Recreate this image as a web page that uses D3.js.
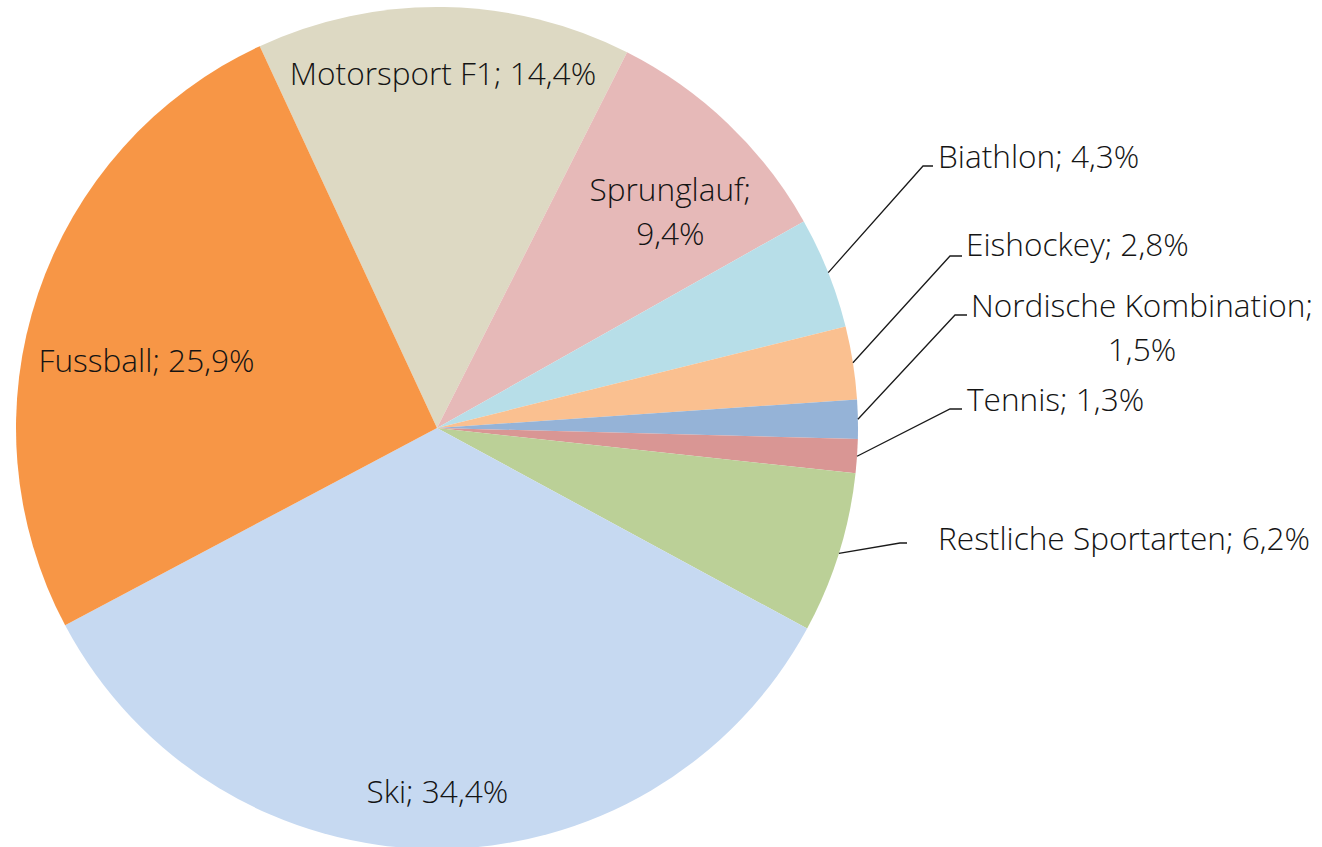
<!DOCTYPE html>
<html>
<head>
<meta charset="utf-8">
<script src="https://cdn.jsdelivr.net/npm/d3@7"></script>
<style>
  html, body { margin: 0; padding: 0; background: #fff; }
  svg text { font-family: 'Open Sans', sans-serif; font-weight: 300; fill: #141414; }
</style>
</head>
<body>
<svg id="chart"></svg>
<script>
'use strict';

// slices, clockwise from the Motorsport slice
var categories = ['Motorsport F1', 'Sprunglauf', 'Biathlon', 'Eishockey', 'Nordische Kombination',
  'Tennis', 'Restliche Sportarten', 'Ski', 'Fussball'];
var shares = [14.4, 9.4, 4.3, 2.8, 1.5, 1.3, 6.2, 34.4, 25.9];
var valueLabels = ['14,4%', '9,4%', '4,3%', '2,8%', '1,5%', '1,3%', '6,2%', '34,4%', '25,9%'];
var sliceColors = ['#ddd9c3', '#e6b9b8', '#b7dee8', '#fac090', '#95b3d7',
  '#d99694', '#bbd097', '#c6d9f1', '#f79646'];

var width = 1322, height = 847;
var cx = 437, cy = 428, radius = 421;
var fontSize = 31.6;

// label layout: inside labels use [angle offset, radius factor], outside ones text anchor + leader elbow
var labelLayout = [
  {inside: true, r: 0.84, da: 0.0, split: false},
  {inside: true, r: 0.755, da: 3.5, split: true},
  {inside: false, tx: 938, ty: 157, ex: 923, ey: 166, hx: 933, split: false},
  {inside: false, tx: 966, ty: 245, ex: 950, ey: 256, hx: 962, split: false},
  {inside: false, tx: 1142, ty: 306, ex: 955, ey: 315, hx: 967, center: true, split: true},
  {inside: false, tx: 967, ty: 400, ex: 950, ey: 409, hx: 962, split: false},
  {inside: false, tx: 938, ty: 539, ex: 900, ey: 543, hx: 907, split: false},
  {inside: true, r: 0.865, da: -0.3, split: false},
  {inside: true, r: 0.708, da: -5.6, split: false}
];

var startDeg = -24.9;
var pie = d3.pie().sort(null).value(function (d) { return d; })
  .startAngle(startDeg * Math.PI / 180)
  .endAngle((startDeg + 360) * Math.PI / 180);
var arcs = pie(shares);

var arc = d3.arc().innerRadius(0).outerRadius(radius);

var svg = d3.select('#chart').attr('width', width).attr('height', height);
var g = svg.append('g').attr('transform', 'translate(' + cx + ',' + cy + ')');

g.selectAll('path.slice').data(arcs).enter()
  .append('path')
  .classed('slice', true)
  .attr('d', arc)
  .style('fill', function (d, i) { return sliceColors[i]; });

var lineGap = 43.5;

function labelLines(i) {
  var lay = labelLayout[i];
  if (lay.split) return [categories[i] + ';', valueLabels[i]];
  return [categories[i] + '; ' + valueLabels[i]];
}

arcs.forEach(function (d, i) {
  var lay = labelLayout[i];
  var lines = labelLines(i);
  var mid = (d.startAngle + d.endAngle) / 2;
  if (lay.inside) {
    var a = mid + lay.da * Math.PI / 180;
    var x = Math.sin(a) * radius * lay.r;
    var y = -Math.cos(a) * radius * lay.r;
    var t = g.append('text')
      .attr('text-anchor', 'middle')
      .style('font-size', fontSize + 'px');
    var y0 = y - (lines.length - 1) * lineGap / 2;
    lines.forEach(function (s, k) {
      t.append('tspan').attr('x', x).attr('y', y0 + k * lineGap).attr('dy', '0.35em').text(s);
    });
  } else {
    var px = Math.sin(mid) * radius, py = -Math.cos(mid) * radius;
    g.append('polyline')
      .attr('points', [[px, py], [lay.ex - cx, lay.ey - cy], [lay.hx - cx, lay.ey - cy]].join(' '))
      .style('fill', 'none')
      .style('stroke', '#1a1a1a')
      .style('stroke-width', 1.3);
    var t2 = svg.append('text')
      .attr('text-anchor', lay.center ? 'middle' : 'start')
      .style('font-size', fontSize + 'px');
    lines.forEach(function (s, k) {
      t2.append('tspan').attr('x', lay.tx).attr('y', lay.ty + k * lineGap).attr('dy', '0.35em').text(s);
    });
  }
});
</script>
</body>
</html>
